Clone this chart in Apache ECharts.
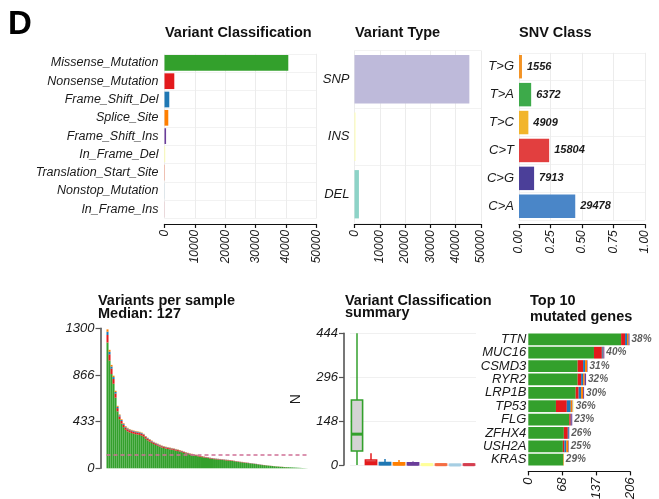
<!DOCTYPE html>
<html>
<head>
<meta charset="utf-8">
<script src="https://cdn.jsdelivr.net/npm/echarts@6/dist/echarts.min.js"></script>
<style>
  html, body { margin: 0; padding: 0; background: #ffffff; }
  #main { width: 659px; height: 499px; }
</style>
</head>
<body>
<div id="main"></div>
<script>
// ---- MAF summary data ----
const vcNames = ['Missense_Mutation', 'Nonsense_Mutation', 'Frame_Shift_Del', 'Splice_Site',
  'Frame_Shift_Ins', 'In_Frame_Del', 'Translation_Start_Site', 'Nonstop_Mutation', 'In_Frame_Ins'];
const vcCounts = [40800, 3230, 1580, 1250, 520, 230, 110, 60, 35];

const vtNames = ['SNP', 'INS', 'DEL'];
const vtCounts = [45400, 400, 1750];

const snvNames = ['T>G', 'T>A', 'T>C', 'C>T', 'C>G', 'C>A'];
const snvCounts = [1556, 6372, 4909, 15804, 7913, 29478];

// variants per sample (sorted), split by classification
const tmbMissense = [1168, 1000, 875, 785, 656, 529, 456, 415, 382, 358,
  343, 334, 327, 321, 317, 314, 310, 303, 293, 275,
  260, 248, 236, 225, 217, 210, 202, 194, 189, 184,
  180, 176, 173, 169, 164, 160, 156, 150, 143, 138,
  132, 127, 123, 120, 116, 112, 108, 104, 101, 97,
  95, 91, 88, 85, 84, 82, 80, 78, 76, 74,
  73, 71, 68, 66, 63, 60, 57, 55, 52, 49,
  48, 46, 44, 41, 39, 36, 33, 30, 29, 27,
  25, 23, 21, 19, 17, 16, 14, 13, 11, 10,
  10, 9, 8, 7, 6, 5, 4, 3, 2, 1];
const tmbNonsense = [70, 58, 50, 44, 38, 30, 26, 24, 22, 20,
  19, 19, 18, 18, 18, 17, 17, 17, 16, 15,
  14, 14, 13, 12, 12, 11, 11, 11, 10, 10,
  10, 10, 9, 9, 9, 9, 8, 8, 8, 7,
  7, 7, 7, 6, 6, 6, 6, 6, 5, 5,
  5, 5, 5, 5, 4, 4, 4, 4, 4, 4,
  4, 4, 4, 3, 3, 3, 3, 3, 3, 3,
  3, 2, 2, 2, 2, 2, 2, 2, 2, 1,
  1, 1, 1, 1, 1, 1, 1, 1, 1, 1,
  0, 0, 0, 0, 0, 0, 0, 0, 0, 0];
const tmbFrameShiftDel = [30, 24, 20, 18, 15, 12, 10, 9, 8, 8,
  8, 7, 7, 7, 7, 7, 7, 7, 6, 6,
  6, 5, 5, 5, 5, 5, 4, 4, 4, 4,
  4, 4, 4, 4, 4, 3, 3, 3, 3, 3,
  3, 3, 3, 3, 3, 2, 2, 2, 2, 2,
  2, 2, 2, 2, 2, 2, 2, 2, 2, 2,
  1, 1, 1, 1, 1, 1, 1, 1, 1, 1,
  1, 1, 1, 1, 1, 1, 1, 1, 0, 0,
  0, 0, 0, 0, 0, 0, 0, 0, 0, 0,
  0, 0, 0, 0, 0, 0, 0, 0, 0, 0];
const tmbSplice = [22, 18, 15, 13, 11, 9, 8, 7, 6, 6,
  6, 5, 5, 5, 5, 5, 5, 5, 5, 4,
  4, 4, 4, 4, 3, 3, 3, 3, 3, 3,
  3, 3, 3, 3, 3, 3, 3, 2, 2, 2,
  2, 2, 2, 2, 2, 2, 2, 2, 2, 2,
  1, 1, 1, 1, 1, 1, 1, 1, 1, 1,
  1, 1, 1, 1, 1, 1, 1, 1, 1, 1,
  0, 0, 0, 0, 0, 0, 0, 0, 0, 0,
  0, 0, 0, 0, 0, 0, 0, 0, 0, 0,
  0, 0, 0, 0, 0, 0, 0, 0, 0, 0];
const medianTmb = 127;
const tmbTicks = [0, 1300 / 3, 2600 / 3, 1300];

// per-sample classification summary (min, Q1, median, Q3, max)
const vcsMin = [0, 0, 0, 0, 0, 0, 0, 0, 0];
const vcsQ1 = [47, 2, 1, 1, 1, 0, 0, 0, 0];
const vcsMedian = [104, 8, 4, 3, 3, 1, 1, 0, 1];
const vcsQ3 = [219, 17, 8, 7, 7, 3, 3, 2, 3];
const vcsMax = [444, 40, 20, 17, 12, 4, 4, 2, 4];

// top 10 mutated genes
const genes = ['TTN', 'MUC16', 'CSMD3', 'RYR2', 'LRP1B', 'TP53', 'FLG', 'ZFHX4', 'USH2A', 'KRAS'];
const geneMissense = [188, 133, 100, 100, 96, 56, 83, 72, 70, 71];
const geneNonsense = [8, 16, 11, 7, 6, 22, 3, 8, 3, 0];
const geneFrameShiftDel = [4, 2, 4, 4, 5, 8, 1, 2, 4, 0];
const geneSplice = [3, 1, 4, 3, 4, 3, 0, 0, 4, 1];
const geneFrameShiftIns = [2, 2, 1, 3, 2, 1, 2, 1, 1, 0];
const geneInFrameDel = [0, 0, 0, 0, 0, 2, 0, 0, 0, 0];
const genePct = ['38%', '40%', '31%', '32%', '30%', '36%', '23%', '26%', '25%', '29%'];
const geneTicks = [0, 206 / 3, 412 / 3, 206];

// ---- palettes ----
const vcColors = ['#33A02C', '#E31A1C', '#1F78B4', '#FF7F00', '#6A3D9A', '#FFFF99', '#F46D43', '#A6CEE3', '#D53E4F'];
const vtColors = ['#BEBADA', '#FFFFB3', '#8DD3C7'];
const snvColors = ['#F39325', '#3DAA4A', '#F2B52B', '#E23F3F', '#4B3F99', '#4A86C8'];

const FONT = '"Liberation Sans", Arial, Helvetica, sans-serif';
const INK = '#1a1a1a';
const GRIDLINE = '#ececec';

const chart = echarts.init(document.getElementById('main'), null, { renderer: 'canvas' });

function bottomValueAxis(gridIndex, max, interval, offset, fmt) {
  return {
    type: 'value', gridIndex: gridIndex, min: 0, max: max, interval: interval, offset: offset,
    axisLine: { show: true, lineStyle: { color: '#111', width: 1.2 } },
    axisTick: { show: true, length: 4, lineStyle: { color: '#111', width: 1.2 } },
    axisLabel: {
      rotate: 90, margin: 6, fontFamily: FONT, fontStyle: 'italic', fontSize: 12, color: INK,
      formatter: fmt || (v => String(v))
    },
    splitLine: { show: true, lineStyle: { color: GRIDLINE, width: 1 } }
  };
}

function leftCategoryAxis(gridIndex, data, fontSize, margin) {
  return {
    type: 'category', gridIndex: gridIndex, data: data, inverse: true,
    axisLine: { show: false }, axisTick: { show: false },
    axisLabel: { interval: 0, margin: margin, fontFamily: FONT, fontStyle: 'italic', fontSize: fontSize, color: INK },
    splitLine: { show: true, interval: 0, lineStyle: { color: '#f2f2f2', width: 1 } }
  };
}

const boxData = vcNames.map((n, i) => [i, vcsMin[i], vcsQ1[i], vcsMedian[i], vcsQ3[i], vcsMax[i]]);

const tmbLayers = [
  { name: 'Missense_Mutation', data: tmbMissense, color: vcColors[0] },
  { name: 'Nonsense_Mutation', data: tmbNonsense, color: vcColors[1] },
  { name: 'Frame_Shift_Del', data: tmbFrameShiftDel, color: vcColors[2] },
  { name: 'Splice_Site', data: tmbSplice, color: vcColors[3] }
];
const geneLayers = [
  { name: 'Missense_Mutation', data: geneMissense, color: vcColors[0] },
  { name: 'Nonsense_Mutation', data: geneNonsense, color: vcColors[1] },
  { name: 'Frame_Shift_Del', data: geneFrameShiftDel, color: vcColors[2] },
  { name: 'Splice_Site', data: geneSplice, color: vcColors[3] },
  { name: 'Frame_Shift_Ins', data: geneFrameShiftIns, color: vcColors[4] },
  { name: 'In_Frame_Del', data: geneInFrameDel, color: vcColors[5] }
];
const geneTotals = genes.map((g, i) => geneLayers.reduce((s, l) => s + l.data[i], 0));
const snvTotal = snvCounts.reduce((a, b) => a + b, 0);
const sampleIds = tmbMissense.map((v, i) => 'S' + (i + 1));

function titleText(x, y, text) {
  return {
    type: 'text', x: x, y: y, silent: true,
    style: { text: text, font: 'bold 14.5px ' + FONT, fill: '#111', verticalAlign: 'middle', textVerticalAlign: 'middle' }
  };
}

const option = {
  backgroundColor: '#ffffff',
  animation: false,
  textStyle: { fontFamily: FONT },
  grid: [
    { left: 164.5, top: 53.75, width: 151.7, height: 164.7, outerBoundsMode: 'none' },
    { left: 354.5, top: 50.5, width: 126.5, height: 172.5, outerBoundsMode: 'none' },
    { left: 519, top: 52.75, width: 126, height: 167.5, outerBoundsMode: 'none' },
    { left: 106.5, top: 328.3, width: 201, height: 140, outerBoundsMode: 'none' },
    { left: 350, top: 333.3, width: 126, height: 131.7, outerBoundsMode: 'none' },
    { left: 528.3, top: 332.6, width: 101.7, height: 133.8, outerBoundsMode: 'none' }
  ],
  xAxis: [
    bottomValueAxis(0, 50000, 10000, 5.5),
    bottomValueAxis(1, 50000, 10000, 1),
    bottomValueAxis(2, 1, 0.25, 4, v => v.toFixed(2)),
    { type: 'category', gridIndex: 3, data: sampleIds, show: false },
    {
      type: 'category', gridIndex: 4, data: vcNames,
      axisLine: { show: false }, axisTick: { show: false }, axisLabel: { show: false },
      splitLine: { show: false }
    },
    {
      type: 'value', gridIndex: 5, min: 0, max: 206, offset: 5,
      axisLine: { show: true, lineStyle: { color: '#111', width: 1.2 } },
      axisTick: { show: true, length: 4, customValues: geneTicks, lineStyle: { color: '#111', width: 1.2 } },
      axisLabel: {
        rotate: 90, margin: 6, customValues: geneTicks, fontFamily: FONT, fontStyle: 'italic',
        fontSize: 13, color: INK, formatter: v => String(Math.floor(v + 1e-6))
      },
      splitLine: { show: false }
    }
  ],
  yAxis: [
    leftCategoryAxis(0, vcNames, 12.5, 6),
    leftCategoryAxis(1, vtNames, 13, 5),
    leftCategoryAxis(2, snvNames, 13, 5),
    {
      type: 'value', gridIndex: 3, min: 0, max: 1300, offset: 6,
      axisLine: { show: true, lineStyle: { color: '#555', width: 1.6 } },
      axisTick: { show: true, length: 5, customValues: tmbTicks, lineStyle: { color: '#555', width: 1.2 } },
      axisLabel: {
        margin: 6, customValues: tmbTicks, fontFamily: FONT, fontStyle: 'italic', fontSize: 13, color: INK,
        formatter: v => String(Math.floor(v + 1e-6))
      },
      splitLine: { show: false }
    },
    {
      type: 'value', gridIndex: 4, min: 0, max: 444, interval: 148, offset: 6,
      name: 'N', nameLocation: 'middle', nameGap: 41, nameRotate: 90,
      nameTextStyle: { fontFamily: FONT, fontSize: 14, color: INK },
      axisLine: { show: true, lineStyle: { color: '#555', width: 1.6 } },
      axisTick: { show: true, length: 5, lineStyle: { color: '#555', width: 1.2 } },
      axisLabel: { margin: 6, fontFamily: FONT, fontStyle: 'italic', fontSize: 13, color: INK },
      splitLine: { show: true, lineStyle: { color: '#f0f0f0', width: 1 } }
    },
    {
      type: 'category', gridIndex: 5, data: genes, inverse: true,
      axisLine: { show: false }, axisTick: { show: false },
      axisLabel: { interval: 0, margin: 2, fontFamily: FONT, fontStyle: 'italic', fontSize: 13, color: INK },
      splitLine: { show: false }
    }
  ],
  series: [
    {
      type: 'bar', name: 'Variant Classification', xAxisIndex: 0, yAxisIndex: 0, barCategoryGap: '14%',
      data: vcCounts.map((v, i) => ({ value: v, itemStyle: { color: vcColors[i] } }))
    },
    {
      type: 'bar', name: 'Variant Type', xAxisIndex: 1, yAxisIndex: 1, barCategoryGap: '16%',
      data: vtCounts.map((v, i) => ({ value: v, itemStyle: { color: vtColors[i] } }))
    },
    {
      type: 'bar', name: 'SNV Class', xAxisIndex: 2, yAxisIndex: 2, barCategoryGap: '16%',
      data: snvCounts.map((v, i) => ({ value: v / snvTotal, itemStyle: { color: snvColors[i] } })),
      label: {
        show: true, position: 'right', distance: 5, fontFamily: FONT, fontStyle: 'italic',
        fontWeight: 'bold', fontSize: 11, color: INK,
        formatter: p => String(snvCounts[p.dataIndex])
      }
    },
    ...tmbLayers.map((l, k) => ({
      type: 'bar', name: l.name, stack: 'tmb', xAxisIndex: 3, yAxisIndex: 3,
      barCategoryGap: '0%', barGap: '0%', data: l.data, itemStyle: { color: l.color },
      markLine: k === 0 ? {
        silent: true, symbol: 'none', label: { show: false },
        lineStyle: { type: [4, 3], color: '#d07096', width: 1.5 },
        data: [{ yAxis: medianTmb }]
      } : undefined
    })),
    {
      type: 'custom', name: 'Variant Classification summary', xAxisIndex: 4, yAxisIndex: 4,
      data: boxData, encode: { x: 0, y: [1, 2, 3, 4, 5] },
      renderItem: function (params, api) {
        const i = api.value(0);
        const c = vcColors[i];
        const pMin = api.coord([i, api.value(1)]);
        const pQ1 = api.coord([i, api.value(2)]);
        const pMed = api.coord([i, api.value(3)]);
        const pQ3 = api.coord([i, api.value(4)]);
        const pMax = api.coord([i, api.value(5)]);
        const w = api.size([1, 0])[0] * 0.8;
        const x = pMed[0];
        return {
          type: 'group', children: [
            { type: 'line', shape: { x1: x, y1: pMin[1], x2: x, y2: pMax[1] }, style: { stroke: c, lineWidth: 1.5 } },
            {
              type: 'rect', shape: { x: x - w / 2, y: pQ3[1], width: w, height: Math.max(pQ1[1] - pQ3[1], 0.5) },
              style: { fill: '#d4d4d4', stroke: c, lineWidth: 1.6 }
            },
            { type: 'line', shape: { x1: x - w / 2, y1: pMed[1], x2: x + w / 2, y2: pMed[1] }, style: { stroke: c, lineWidth: 3 } }
          ]
        };
      }
    },
    ...geneLayers.map(l => ({
      type: 'bar', name: l.name, stack: 'genes', xAxisIndex: 5, yAxisIndex: 5,
      barCategoryGap: '12%', data: l.data, itemStyle: { color: l.color }
    })),
    {
      type: 'scatter', name: 'pct', xAxisIndex: 5, yAxisIndex: 5, symbolSize: 0,
      data: genes.map((g, i) => [geneTotals[i], i]),
      label: {
        show: true, position: 'right', distance: 2, fontFamily: FONT, fontStyle: 'italic',
        fontWeight: 'bold', fontSize: 10, color: '#333',
        formatter: p => genePct[p.dataIndex]
      }
    }
  ],
  graphic: [
    {
      type: 'text', x: 8, y: 25, silent: true,
      style: { text: 'D', font: 'bold 33px ' + FONT, fill: '#000', verticalAlign: 'middle', textVerticalAlign: 'middle' }
    },
    titleText(165, 33, 'Variant Classification'),
    titleText(355, 33, 'Variant Type'),
    titleText(519, 33, 'SNV Class'),
    titleText(98, 301, 'Variants per sample'),
    titleText(98, 313.5, 'Median: ' + medianTmb),
    titleText(345, 301, 'Variant Classification'),
    titleText(345, 313, 'summary'),
    titleText(530, 301, 'Top 10'),
    titleText(530, 316.5, 'mutated genes')
  ]
};

chart.setOption(option);
</script>
</body>
</html>
